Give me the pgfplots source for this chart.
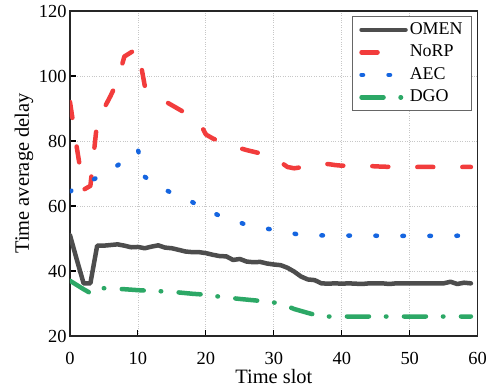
\documentclass[border=0pt]{standalone}
\usepackage{pgfplots}
\pgfplotsset{compat=1.18}
\usepackage{fontspec}
\setmainfont{Liberation Serif}
\definecolor{cOMEN}{HTML}{4D4D4D}
\definecolor{cNoRP}{HTML}{F23C3C}
\definecolor{cAEC}{HTML}{1565E0}
\definecolor{cDGO}{HTML}{2CA866}
\begin{document}
\begin{tikzpicture}
\begin{axis}[
  scale only axis,
  width=407.7bp, height=325bp,
  xmin=0, xmax=60, ymin=20, ymax=120,
  xtick={0,10,...,60}, ytick={20,40,...,120},
  xticklabels={0,10,20,30,40,50,60},
  yticklabels={20,40,60,80,100,120},
  tick pos=left, tick align=inside,
  major tick length=6bp,
  tick style={line width=1.1bp, black},
  axis line style={line width=1.3bp, black!85},
  grid=major,
  major grid style={dotted, black!22, line width=0.8bp},
  ticklabel style={font=\fontsize{18.5}{20}\selectfont},
  xticklabel style={inner sep=0pt, yshift=-16bp},
  xlabel={Time slot}, ylabel={Time average delay},
  label style={font=\fontsize{20.5}{24}\selectfont},
  xlabel style={at={(axis description cs:0.5,0)}, anchor=north, inner sep=0pt, yshift=-33bp},
  ylabel style={at={(axis description cs:0,0.5)}, anchor=center, inner sep=0pt, yshift=46bp},
  legend style={at={(axis description cs:0.986,0.984)}, anchor=north east,
    draw=black!60, line width=0.8bp, fill=white,
    inner xsep=7bp, inner ysep=2bp, row sep=0bp,
    font=\fontsize{18}{20}\selectfont,
    nodes={text height=12.5bp, text depth=4bp, inner ysep=3bp, inner xsep=2bp}},
  legend cell align=left,
  legend image code/.code={\draw[#1] (0bp,0bp) -- (44bp,0bp);},
  every axis plot/.append style={line width=4.5bp, line cap=round, line join=round},
]
\addplot[cOMEN, solid] coordinates {
(0,51)(1,43.5)(2,36.2)(3,36.2)(4,47.8)(5,47.8)(6,48)(7,48.2)(8,47.8)(9,47.3)(10,47.4)
(11,47)(12,47.5)(13,47.9)(14,47.2)(15,47)(16,46.5)(17,46)(18,45.8)(19,45.8)(20,45.5)
(21,45)(22,44.6)(23,44.5)(24,43.4)(25,43.7)(26,42.9)(27,42.7)(28,42.8)(29,42.3)(30,42)
(31,41.8)(32,41)(33,39.8)(34,38.3)(35,37.4)(36,37.2)(37,36.2)(38,36.1)(39,36.2)(40,36.1)
(41,36.2)(42,36.1)(43,36)(44,36.2)(45,36.2)(46,36.2)(47,36)(48,36.2)(49,36.2)(50,36.2)
(51,36.2)(52,36.2)(53,36.2)(54,36.2)(55,36.2)(56,36.7)(57,36)(58,36.4)(59,36.2)
};
\addlegendentry{OMEN}
\addplot[cNoRP, dash pattern=on 16bp off 29bp] coordinates {
(0,92)(1,78)(2,65)(3,66.2)(4,86)(5,90)(6,94)(7,98.5)(8,106)(9,107.3)(10,108.5)
(11,97)(12,95.3)(13,93.7)(14,92.2)(15,91)(16,89.8)(17,88.6)(18,87.4)(19,86)(20,82)
(21,80.8)(22,79.9)(23,79)(24,78.4)(25,77.8)(26,77.2)(27,76.7)(28,76.2)(29,75.6)(30,75)
(31,73.5)(32,72)(33,71.6)(34,71.9)(35,72.4)(36,72.8)(37,73)(38,72.9)(39,72.6)(40,72.4)
(42,72.4)(44,72.3)(46,72.1)(48,72)(50,72)(52,72)(54,72)(56,72)(58,72)(59,72)
};
\addlegendentry{NoRP}
\addplot[cAEC, dash pattern=on 1.5bp off 25.5bp] coordinates {
(0,64.5)(1,65.5)(2,66.5)(3,67.6)(4,68.8)(5,70)(6,71.3)(7,72.5)(8,74)(9,75.5)(10,77.3)
(11,69)(12,67.5)(13,66)(14,65)(15,64)(16,63.2)(17,62.4)(18,61.2)(19,60)(20,58.8)
(21,58)(22,57)(23,56.1)(24,55.5)(25,54.9)(26,54.2)(27,53.6)(28,53.3)(29,53)(30,52.7)
(31,52.5)(32,52)(33,51.5)(34,51)(35,50.8)(36,50.9)(38,51)(40,50.9)(42,50.9)(44,50.9)
(46,50.8)(48,50.8)(50,50.8)(52,50.8)(54,50.8)(56,50.8)(58,50.9)(59,50.9)
};
\addlegendentry{AEC}
\addplot[cDGO, dash pattern=on 22bp off 17bp on 0.5bp off 17.5bp] coordinates {
(0,37)(1,35.7)(2,34.4)(3,33.2)(4,34.8)(5,34.7)(6,34.6)(8,34.4)(10,34.1)(12,33.9)
(15,33.6)(18,33)(20,32.7)(22,32.1)(25,31.4)(28,30.8)(30,30.3)(31,30)(33,28.3)(35,27.1)
(37,26)(40,26)(45,26)(50,26)(55,26)(59,26)
};
\addlegendentry{DGO}
\end{axis}
\path[use as bounding box] (current axis.south west) ++(-70bp,-54bp) rectangle ++(494bp,390bp);
\end{tikzpicture}
\end{document}
